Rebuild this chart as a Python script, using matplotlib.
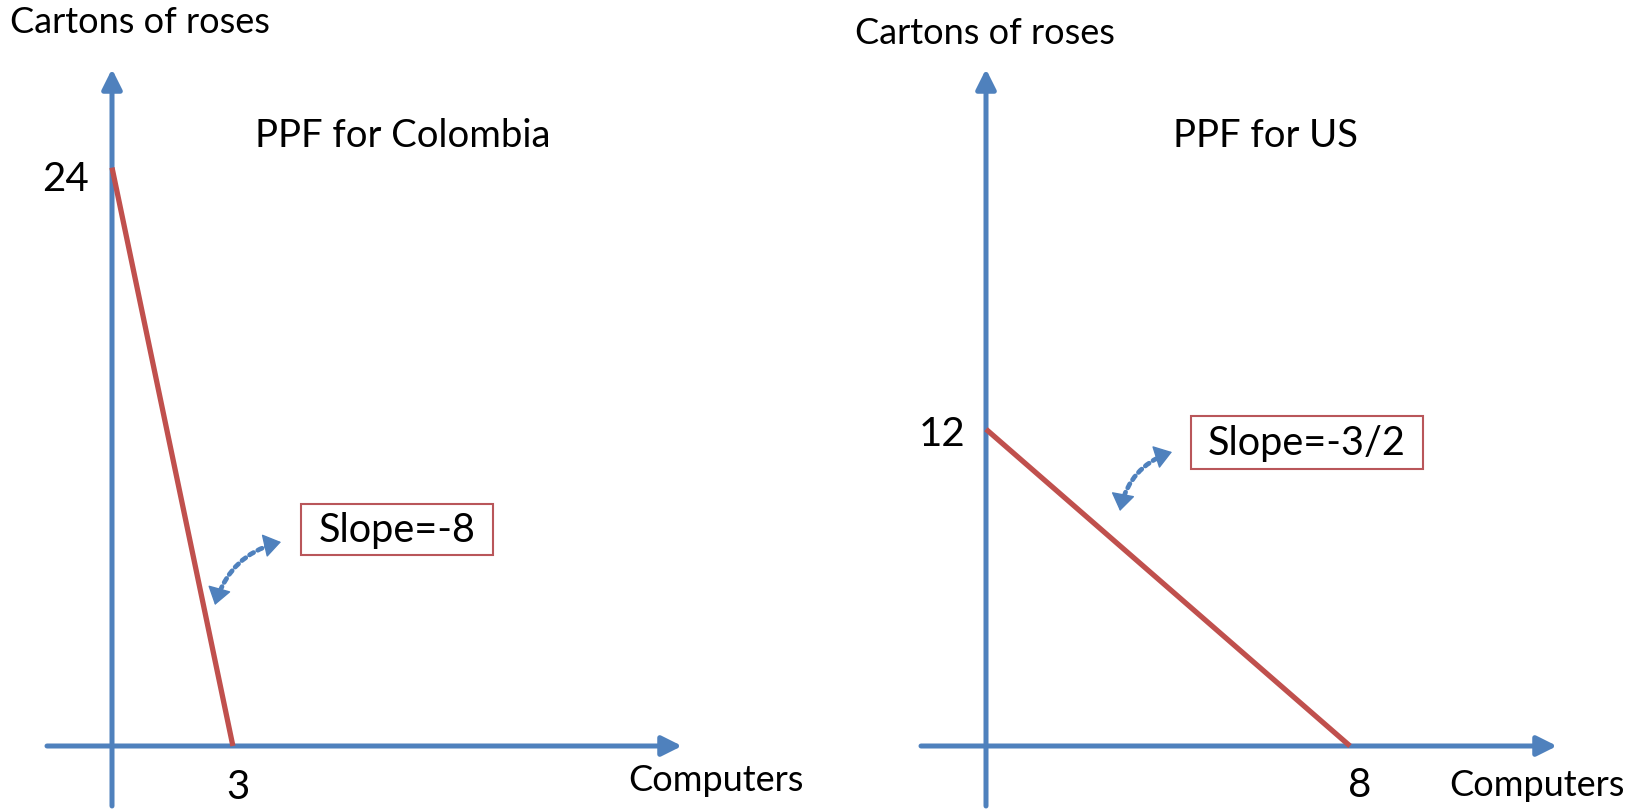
import matplotlib
matplotlib.use("Agg")
import matplotlib.pyplot as plt
from matplotlib.patches import FancyArrowPatch, Rectangle

W, H = 1644, 812
DPI = 100

countries = ["Colombia", "US"]
max_roses = [24, 12]
max_computers = [3, 8]
slope_labels = ["Slope=-8", "Slope=-3/2"]
x_label = "Computers"
y_label = "Cartons of roses"

plt.rcParams['font.family'] = ['Lato', 'DejaVu Sans']

BLUE = '#4f81bd'
RED = '#c0504d'
BOX = '#b9565a'

# pixel layout of each panel: origin, px per unit, axis extents, text spots
panels = [
    dict(left=0, right=820, ox=112, oy=747, sx=40.3, sy=24.1,
         xstart=47, xend=682, ytop=70, ybot=807,
         ylab=(140, 23), title=(403, 136), ytick=(65, 180), xtick=(238, 788),
         xlab=(716, 781), box=(301, 505, 493, 556),
         arr=((215, 606), (281, 543))),
    dict(left=822, right=1644, ox=986, oy=747, sx=45.5, sy=26.4,
         xstart=921, xend=1557, ytop=70, ybot=807,
         ylab=(985, 34), title=(1265, 136), ytick=(942, 435), xtick=(1360, 786),
         xlab=(1537, 786), box=(1191, 417, 1423, 470),
         arr=((1120, 512), (1172, 453))),
]
RAD = -0.3

fig = plt.figure(figsize=(W / DPI, H / DPI), dpi=DPI)

for i, p in enumerate(panels):
    ax = fig.add_axes([p['left'] / W, 0, (p['right'] - p['left']) / W, 1])
    ax.set_xlim((p['left'] - p['ox']) / p['sx'], (p['right'] - p['ox']) / p['sx'])
    ax.set_ylim((p['oy'] - H) / p['sy'], p['oy'] / p['sy'])
    ax.axis('off')

    def d(px, py, p=p):
        return (px - p['ox']) / p['sx'], (p['oy'] - py) / p['sy']

    # axes with arrow heads
    ax.annotate('', xy=d(p['xend'], p['oy']), xytext=d(p['xstart'], p['oy']),
                arrowprops=dict(arrowstyle='-|>,head_length=0.6,head_width=0.3',
                                color=BLUE, lw=3.6, shrinkA=0, shrinkB=0,
                                mutation_scale=20))
    ax.annotate('', xy=d(p['ox'], p['ytop']), xytext=d(p['ox'], p['ybot']),
                arrowprops=dict(arrowstyle='-|>,head_length=0.6,head_width=0.3',
                                color=BLUE, lw=3.6, shrinkA=0, shrinkB=0,
                                mutation_scale=20))

    # PPF line
    ax.plot([0, max_computers[i]], [max_roses[i], 0], color=RED, lw=3.8,
            solid_capstyle='butt', zorder=3)

    ax.text(*d(*p['ylab']), y_label, fontsize=26, ha='center', va='center')
    ax.text(*d(*p['title']), "PPF for " + countries[i], fontsize=27.5,
            ha='center', va='center')
    ax.text(*d(*p['ytick']), str(max_roses[i]), fontsize=29, ha='center', va='center')
    ax.text(*d(*p['xtick']), str(max_computers[i]), fontsize=29, ha='center', va='center')
    ax.text(*d(*p['xlab']), x_label, fontsize=26, ha='center', va='center')

    x0, y0, x1, y1 = p['box']
    bx, by = d(x0, y1)
    bw = (x1 - x0) / p['sx']
    bh = (y1 - y0) / p['sy']
    ax.add_patch(Rectangle((bx, by), bw, bh, fill=False, ec=BOX, lw=1.5))
    ax.text(*d((x0 + x1) / 2, (y0 + y1) / 2), slope_labels[i], fontsize=28.5,
            ha='center', va='center')

    # curved dotted double arrow: dotted body, solid heads
    (ax_, ay_), (bx_, by_) = p['arr']
    ax.add_patch(FancyArrowPatch(d(ax_, ay_), d(bx_, by_), arrowstyle='-',
                                 connectionstyle='arc3,rad=%g' % RAD, color=BLUE,
                                 lw=3.4, linestyle=(0, (1, 1)), shrinkA=4, shrinkB=4))
    # control point of the arc (y up), back to pixel coords (y down)
    ux, uy = ax_, H - ay_
    vx, vy = bx_, H - by_
    cx = (ux + vx) / 2 + RAD * (vy - uy)
    cy = (uy + vy) / 2 - RAD * (vx - ux)
    cpy = H - cy
    for (hx, hy) in [(ax_, ay_), (bx_, by_)]:
        tx = hx + 0.2 * (cx - hx)
        ty = hy + 0.2 * (cpy - hy)
        ax.annotate('', xy=d(hx, hy), xytext=d(tx, ty),
                    arrowprops=dict(arrowstyle='-|>,head_length=0.55,head_width=0.38',
                                    color=BLUE, lw=1, shrinkA=0, shrinkB=0,
                                    mutation_scale=20))

fig.savefig('out.png', dpi=DPI)
